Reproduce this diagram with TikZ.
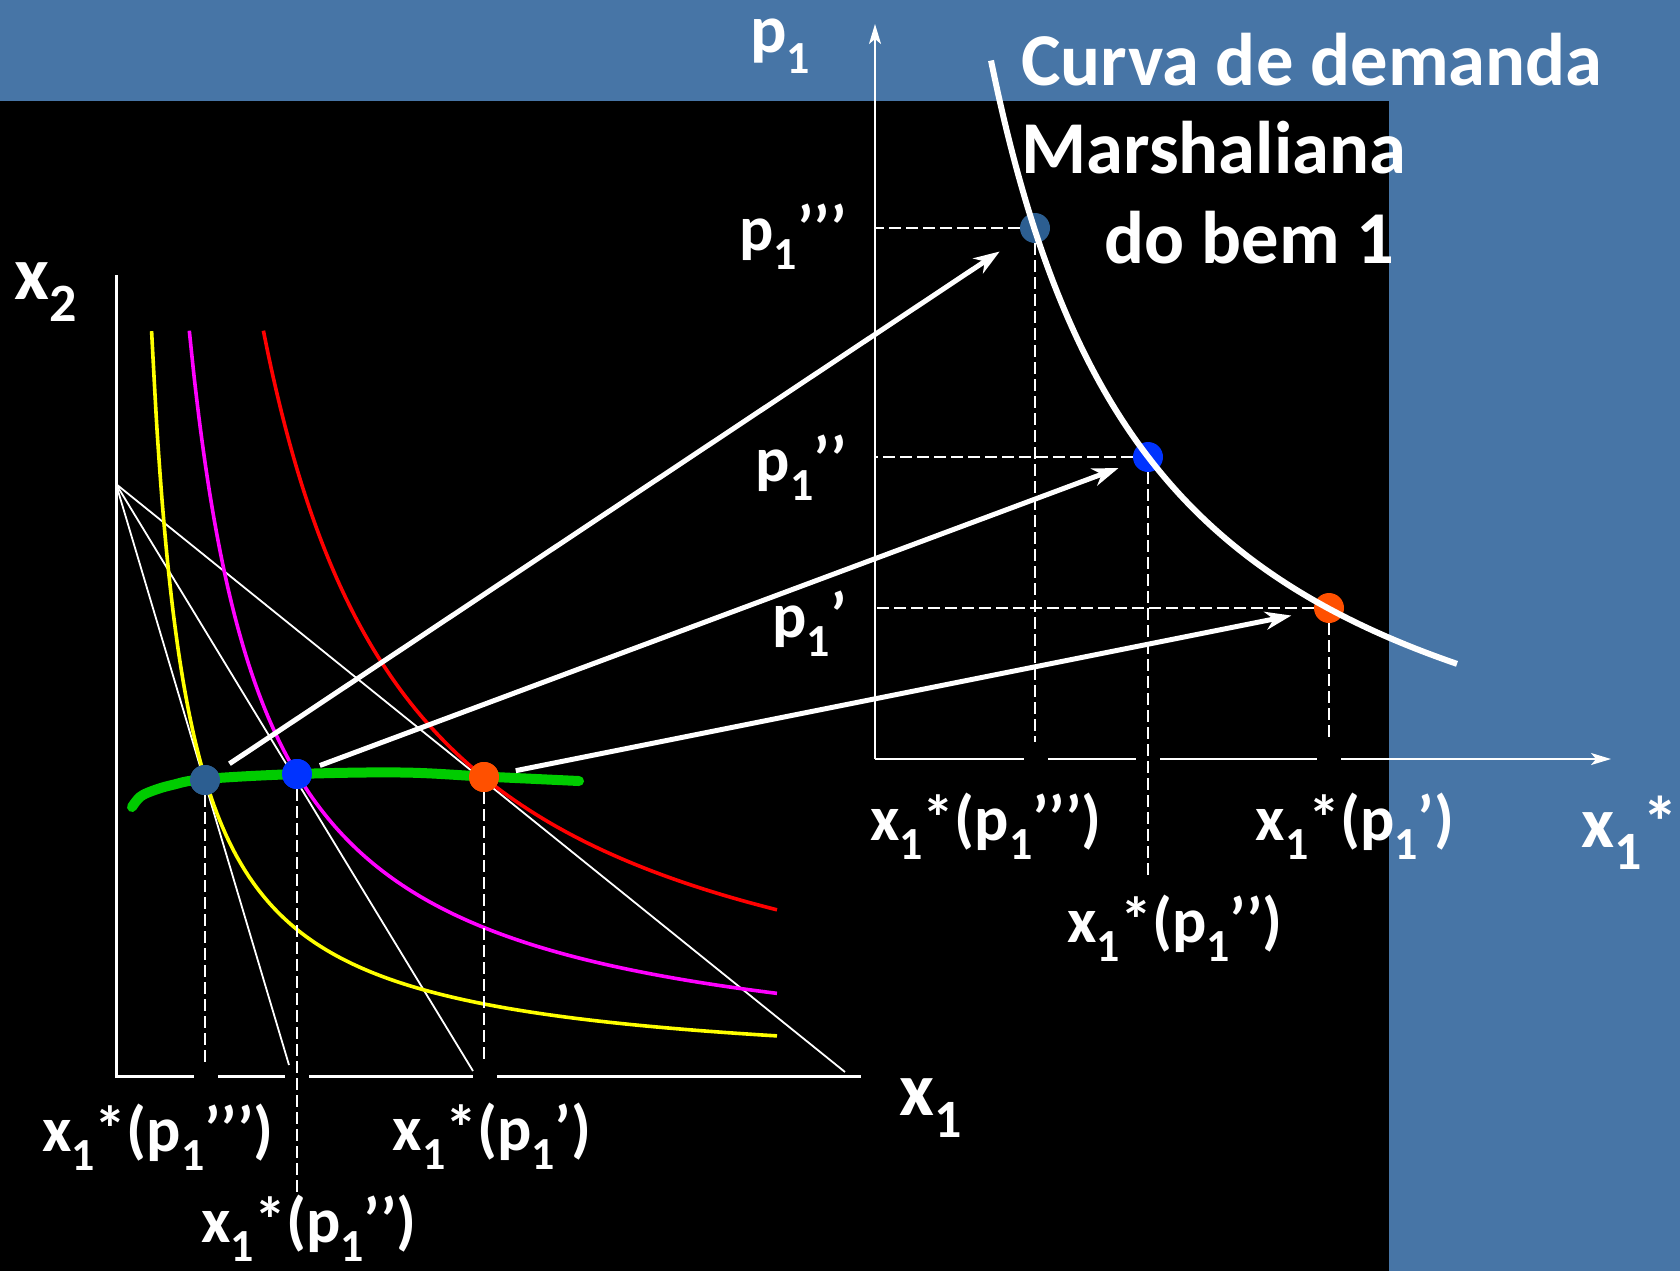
\documentclass[tikz,border=0pt]{standalone}
\usepackage{fontspec}
\setmainfont{Carlito}
\usetikzlibrary{arrows.meta}
\definecolor{bgblue}{RGB}{71,117,166}
\definecolor{dotsteel}{RGB}{44,94,145}
\definecolor{dotblue}{RGB}{0,51,255}
\definecolor{dotorange}{RGB}{255,80,0}
\definecolor{icgreen}{RGB}{0,204,0}
\definecolor{icyellow}{RGB}{255,255,0}
\definecolor{icmag}{RGB}{255,0,255}
\definecolor{icred}{RGB}{255,0,0}
\newcommand{\sbs}[1]{\raisebox{-0.3em}{\fontsize{23pt}{23pt}\selectfont #1}}
\newcommand{\sbb}[1]{\raisebox{-0.3em}{\fontsize{27pt}{27pt}\selectfont #1}}
\begin{document}
\begin{tikzpicture}[x=0.5pt,y=-0.5pt,
  lbl/.style={text=white,font=\fontsize{32pt}{34pt}\selectfont\bfseries,inner sep=0pt},
  axlbl/.style={text=white,font=\fontsize{38pt}{40pt}\selectfont\bfseries,inner sep=0pt},
  ttl/.style={text=white,font=\fontsize{37.3pt}{40pt}\selectfont\bfseries,inner sep=0pt},
  axisL/.style={white,line width=1.5pt},
  axisR/.style={white,line width=1pt},
  budget/.style={white,line width=0.9pt},
  guide/.style={white,line width=1pt,dash pattern=on 6pt off 2.5pt},
  icurve/.style={line width=1.8pt},
  dot/.style={circle,inner sep=0pt,minimum size=15pt},
  bigarrow/.style={white,line width=2.5pt,-{Stealth[length=13pt,width=9pt,inset=4pt]}},
  gapmark/.style={black,line width=4pt},
  demand/.style={white,line width=3pt}]
\useasboundingbox (0,0) rectangle (1680,1271);
\fill[bgblue] (0,0) rectangle (1680,1271);
\fill[black] (0,101) rectangle (1389,1271);

% ---------- left panel ----------
\coordinate (pivot) at (116,484);
\coordinate (b3) at (289,1065);
\coordinate (b2) at (473,1071);
\coordinate (b1) at (845,1072);
\draw[budget] (pivot) -- (b3);
\draw[budget] (pivot) -- (b2);
\draw[budget] (pivot) -- (b1);

% indifference curves: (x-116)(1076-y)=k
\draw[icurve,icyellow] plot[domain=35.6:661,samples=120,smooth] ({116+\x},{1076-265/(\x*0.01)});
\draw[icurve,icmag] plot[domain=73.3:661,samples=120,smooth] ({116+\x},{1076-546/(\x*0.01)});
\draw[icurve,icred] plot[domain=147.4:661,samples=120,smooth] ({116+\x},{1076-1098/(\x*0.01)});

\coordinate (Lo) at (116,1076);
\draw[axisL] (116,275) -- (Lo) -- (861,1076);
\foreach \gx in {206,297,485} \draw[gapmark] (\gx-12,1076) -- (\gx+12,1076);

\node[dot,fill=dotsteel] (L3) at (205,780) {};
\node[dot,fill=dotblue] (L2) at (297,774) {};
\node[dot,fill=dotorange] (L1) at (484,777) {};

\coordinate (Lbase) at (0,1062);
\coordinate (Llow) at (0,1193);
\draw[guide] (L3) -- (L3 |- Lbase);
\draw[guide] (L2) -- (L2 |- Llow);
\draw[guide] (L1) -- (L1 |- Lbase);

\draw[icgreen,line width=5pt,line cap=round] plot[smooth,tension=0.6] coordinates {(132,807) (140,797) (152,791) (172,785) (205,779) (297,774) (402,772.5) (484,776.5) (579,781)};
\node[dot,fill=dotsteel] at (L3) {};
\node[dot,fill=dotblue] at (L2) {};
\node[dot,fill=dotorange] at (L1) {};

% ---------- right panel ----------
\coordinate (Ro) at (875,759);
\draw[axisR,-{Stealth[length=10pt,width=6pt,inset=2.5pt]}] (Ro) -- (875,24);
\draw[axisR,-{Stealth[length=10pt,width=6pt,inset=2.5pt]}] (Ro) -- (1611,759);
\foreach \gx in {1036,1148,1329} \draw[gapmark] (\gx-12,759) -- (\gx+12,759);

\node[dot,fill=dotsteel] (R3) at (1035,228) {};
\node[dot,fill=dotblue] (R2) at (1148,457) {};
\node[dot,fill=dotorange] (R1) at (1329,608) {};

\coordinate (Rbase) at (0,742);
\coordinate (Rlow) at (0,880);
\draw[guide] (R3.west) -- (R3 -| Ro);
\draw[guide] (R2.west) -- (R2 -| Ro);
\draw[guide] (R1.west) -- (R1 -| Ro);
\draw[guide] (R3.south) -- (R3 |- Rbase);
\draw[guide] (R2.south) -- (R2 |- Rlow);
\draw[guide] (R1.south) -- (R1 |- Rbase);

% demand curve: y = 882 - 138340/(x-822.5)
\draw[demand] plot[domain=168.5:634.5,samples=120,smooth] ({822.5+\x},{882-1383.4/(\x*0.01)});

% ---------- arrows ----------
\draw[bigarrow,shorten <=7pt,shorten >=13.5pt] (L3) -- (R3);
\draw[bigarrow,shorten <=4.5pt,shorten >=8pt] (L2) -- (R2);
\draw[bigarrow,shorten <=8.5pt,shorten >=11.5pt] (L1) -- (R1);

% ---------- labels ----------
\node[axlbl] (lx2) at (46,292) {x\sbb{2}};
\node[axlbl] (lx1) at (931,1108) {x\sbb{1}};
\node[lbl] (lq3) at (158,1137) {x\sbs{1}*(p\sbs{1}’’’)};
\node[lbl] (lq2) at (309,1228) {x\sbs{1}*(p\sbs{1}’’)};
\node[lbl] (lq1) at (492,1136) {x\sbs{1}*(p\sbs{1}’)};

\node[axlbl,font=\fontsize{34pt}{36pt}\selectfont\bfseries] (rp1) at (780,46) {p\sbs{1}};
\node[lbl,anchor=east] (rp3) at (847,237) {p\sbs{1}’’’};
\node[lbl,anchor=east] (rp2) at (847,468) {p\sbs{1}’’};
\node[lbl,anchor=east] (rp1b) at (847,624) {p\sbs{1}’};
\node[lbl] (rq3) at (986,826) {x\sbs{1}*(p\sbs{1}’’’)};
\node[lbl] (rq2) at (1175,928) {x\sbs{1}*(p\sbs{1}’’)};
\node[lbl] (rq1) at (1355,826) {x\sbs{1}*(p\sbs{1}’)};
\node[axlbl,font=\fontsize{36pt}{38pt}\selectfont\bfseries] (rx1) at (1630,833) {x\sbb{1}*};

\node[ttl,anchor=west] (t1) at (1021,60) {Curva de demanda};
\node[ttl,anchor=west] (t2) at (1021,148) {Marshaliana};
\node[ttl,anchor=west] (t3) at (1104,238) {do bem 1};
\end{tikzpicture}
\end{document}
